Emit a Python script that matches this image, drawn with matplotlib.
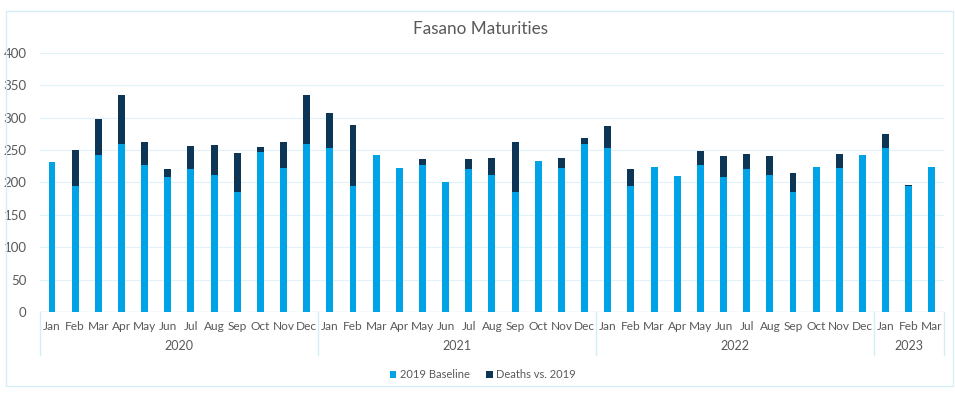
import matplotlib.pyplot as plt
import matplotlib.transforms as mtransforms
import numpy as np
from matplotlib.patches import Rectangle

months = ['Jan', 'Feb', 'Mar', 'Apr', 'May', 'Jun', 'Jul', 'Aug', 'Sep', 'Oct', 'Nov', 'Dec']
years = ['2020', '2021', '2022', '2023']
months_per_year = [12, 12, 12, 3]

baseline = [232, 194, 243, 259, 227, 209, 221, 212, 186, 247, 222, 260,
            253, 194, 242, 223, 227, 201, 221, 212, 186, 233, 222, 260,
            253, 194, 224, 210, 227, 209, 221, 212, 186, 224, 222, 242,
            253, 194, 224]
excess = [0, 56, 54, 75, 36, 11, 35, 45, 59, 8, 40, 74,
          54, 95, 0, 0, 9, 0, 15, 26, 77, 0, 16, 8,
          34, 27, 0, 0, 22, 32, 23, 28, 29, 0, 22, 0,
          22, 2, 0]

light = '#00a3e6'
dark = '#0d3556'
text_col = '#595959'
line_col = '#d6edf8'

plt.rcParams['font.family'] = ['Lato', 'DejaVu Sans']

labels = []
for n in months_per_year:
    labels += months[:n]
x = np.arange(len(labels))

fig = plt.figure(figsize=(9.55, 4.08), dpi=100)
ax = fig.add_axes([0.0423, 0.2346, 0.9457, 0.6364])

ax.bar(x, baseline, width=0.3, color=light, label='2019 Baseline', zorder=3)
ax.bar(x, excess, width=0.3, bottom=baseline, color=dark, label='Deaths vs. 2019', zorder=3)

ax.set_xlim(-0.5, len(labels) - 0.5)
ax.set_ylim(0, 400)
ax.set_yticks(range(0, 401, 50))
ax.set_xticks(x)
ax.set_xticklabels(labels)
ax.tick_params(axis='both', length=0, colors=text_col)
ax.tick_params(axis='x', pad=6, labelsize=8.6)
ax.tick_params(axis='y', pad=10, labelsize=9.5)
ax.grid(axis='y', color='#e3f2fa', linewidth=0.9, zorder=0)
for s in ax.spines.values():
    s.set_visible(False)
ax.axhline(0, color=line_col, linewidth=1, zorder=2)

# multi-level category axis
trans = mtransforms.blended_transform_factory(ax.transData, ax.transAxes)
start = -0.5
for yr, n in zip(years, months_per_year):
    ax.plot([start, start], [0, -0.166], transform=trans, color=line_col,
            linewidth=1, clip_on=False)
    ax.text(start + n / 2, -0.131, yr, transform=trans, ha='center', va='center',
            fontsize=9, color=text_col)
    start += n
ax.plot([start, start], [0, -0.166], transform=trans, color=line_col,
        linewidth=1, clip_on=False)

fig.text(0.503, 0.93, 'Fasano Maturities', ha='center', va='center',
         fontsize=12.3, color=text_col)

ax.legend(loc='center', bbox_to_anchor=(0.49, -0.24), ncol=2, frameon=False,
          fontsize=8, handlelength=0.6, handleheight=0.6, handletextpad=0.3,
          columnspacing=1.5, labelcolor=text_col)

fig.patches.append(Rectangle((0.006, 0.054), 0.992, 0.92, transform=fig.transFigure,
                             fill=False, edgecolor=line_col, linewidth=1))

fig.savefig('out.png', dpi=100)
